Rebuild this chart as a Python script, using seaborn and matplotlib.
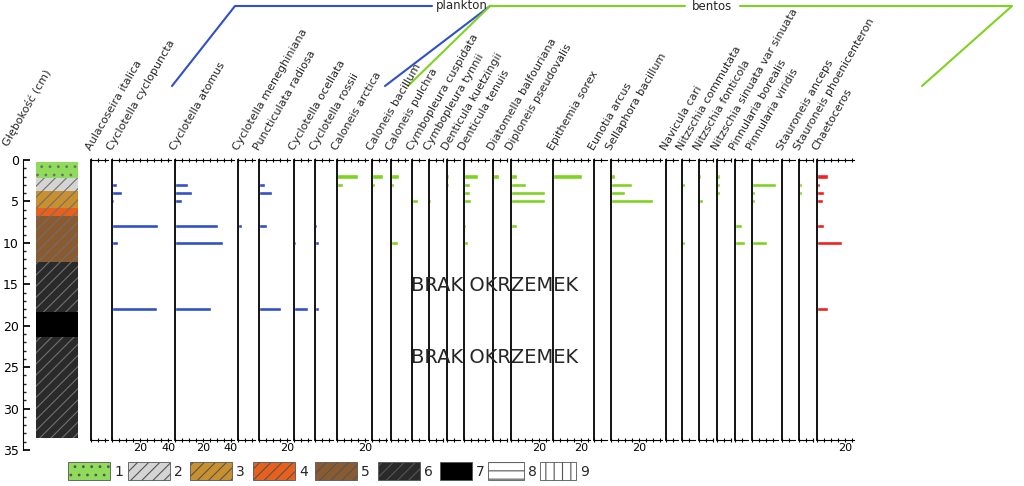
import numpy as np
import matplotlib
matplotlib.use("Agg")
import matplotlib.pyplot as plt
import seaborn as sns
from matplotlib.patches import Rectangle
from matplotlib.lines import Line2D

sns.set_theme(style="white", rc={"hatch.linewidth": 0.8})
plt.rcParams["font.family"] = "DejaVu Sans"

depths = [2, 3, 4, 5, 8, 10, 18]
taxa = ["Aulacoseira italica", "Cyclotella cyclopuncta", "Cyclotella atomus",
        "Cyclotella meneghiniana", "Puncticulata radiosa", "Cyclotella ocellata",
        "Cyclotella rossii", "Caloneis arctica", "Caloneis bacillum", "Caloneis pulchra",
        "Cymbopleura cuspidata", "Cymbopleura tynnii", "Denticula kuetzingii",
        "Denticula tenuis", "Diatomella balfouriana", "Diploneis pseudovalis",
        "Epithemia sorex", "Eunotia arcus", "Sellaphora bacillum", "Navicula cari",
        "Nitzschia commutata", "Nitzschia fonticola", "Nitzschia sinuata var sinuata",
        "Pinnularia borealis", "Pinnularia viridis", "Stauroneis anceps",
        "Stauroneis phoenicenteron", "Chaetoceros"]
groups = ["p"] * 7 + ["b"] * 20 + ["c"]
values = [
    [0, 1, 1, 0, 0, 0, 0],
    [0.5, 3.5, 7, 1.5, 33, 4, 32],
    [0, 9, 12, 5, 31, 34, 26],
    [0, 0, 0, 0, 3, 0, 0],
    [1, 4, 9, 0, 6, 0.5, 16],
    [0, 0, 1, 0, 0, 1.5, 10],
    [0, 0, 0, 0, 1.5, 3, 3],
    [15, 4, 0, 0, 0, 0, 0],
    [8, 2, 0, 0, 0, 0, 0],
    [6, 2, 0, 1, 0, 5, 0],
    [0, 0, 1, 4, 0, 0, 0],
    [0, 1, 0, 1.5, 0, 0, 0],
    [1.5, 1.5, 0.5, 0, 0, 0, 0],
    [10, 4, 4, 5, 1.5, 3, 0],
    [4, 0, 1, 0, 1, 0, 0],
    [4.5, 11, 24, 24, 4, 0.5, 0],
    [21, 0, 1, 1, 0.5, 0, 0],
    [0.5, 0.5, 0.5, 0, 0, 0, 0],
    [3, 15, 10, 30, 0, 1, 0],
    [0, 1, 0, 0, 0, 0, 0],
    [0, 2, 1, 0, 0, 2, 0],
    [1.5, 0, 0.5, 3, 0, 0, 0],
    [2, 2, 2, 1, 0, 0, 0],
    [0, 0, 0, 0, 5, 7, 0],
    [0, 17, 2, 2, 0.5, 11, 0],
    [0, 0.5, 0, 0, 0, 0, 0],
    [0, 2, 2, 0, 0, 0, 0],
    [8, 2, 5, 4, 5, 18, 8],
]
xlefts = [91, 112, 175, 238, 259, 294, 315, 337, 372, 391, 412, 429, 447, 464, 493,
          511, 553, 594, 611, 666, 682, 699, 717, 735, 752, 782, 799, 817, 858]

litho_top = [0.3, 2.2, 3.7, 5.8, 6.8, 12.3, 18.3, 21.4]
litho_bot = [2.2, 3.7, 5.8, 6.8, 12.3, 18.3, 21.4, 33.5]
litho_col = ["#8fdc5a", "#d4d4d4", "#c8902e", "#e8601c", "#8a5a30", "#2a2a2a", "#000000", "#2a2a2a"]
litho_hat = ["..", "///", "///", "///", "///", "///", "", "///"]
legend_cols = ["#8fdc5a", "#d4d4d4", "#c8902e", "#e8601c", "#8a5a30", "#2a2a2a", "#000000", "#ffffff", "#ffffff"]
legend_hat = ["..", "///", "///", "///", "///", "///", "", "--", "||"]
legend_labels = ["1", "2", "3", "4", "5", "6", "7", "8", "9"]

W, H = 1024, 486
fig = plt.figure(figsize=(10.24, 4.86), dpi=100)
def fx(x): return x / W
def fy(y): return 1 - y / H

colors = {"p": "#3050c8", "b": "#7ed321", "c": "#f02020"}
PXU = 1.4
top_y, bot_y = 160, 440
for i, t in enumerate(taxa):
    x0 = xlefts[i]
    w = xlefts[i + 1] - x0 - 4
    ax = fig.add_axes([fx(x0), fy(bot_y), fx(w), (bot_y - top_y) / H])
    xmax = w / PXU
    ax.barh(depths, values[i], height=0.5, color=colors[groups[i]], align="center")
    ax.set_xlim(0, xmax)
    ax.set_ylim(33.8, 0)
    ax.spines["right"].set_visible(False)
    for s in ["left", "top", "bottom"]:
        ax.spines[s].set_color("black")
    ax.spines["left"].set_linewidth(1.3)
    ax.spines["top"].set_linewidth(0.8)
    ax.spines["bottom"].set_linewidth(0.8)
    ax.set_yticks([])
    ax.set_xticks(np.arange(0, xmax + 0.01, 5))
    ax.tick_params(axis="x", which="both", top=True, bottom=True, direction="inout",
                   length=3, width=0.8, labelsize=8, pad=1, colors="black")
    labs = [str(int(v)) if v in (20, 40) else "" for v in np.arange(0, xmax + 0.01, 5)]
    ax.set_xticklabels(labs)
    ax.patch.set_alpha(0)
    fig.text(fx(x0 + 2), fy(top_y - 8), t, rotation=60, fontsize=8,
             ha="left", va="bottom", rotation_mode="anchor")

# lithology
dax = fig.add_axes([fx(36), fy(450), fx(42), 290 / H])
for t0, b0, c, h in zip(litho_top, litho_bot, litho_col, litho_hat):
    dax.bar(0.5, b0 - t0, bottom=t0, width=1, color=c, hatch=h,
            edgecolor="#707070" if c != "#000000" else "black", linewidth=0)
dax.set_xlim(0, 1)
dax.set_ylim(35, 0)
dax.set_xticks([])
dax.set_yticks([])
for s in ["right", "top", "bottom", "left"]:
    dax.spines[s].set_visible(False)
dax.patch.set_alpha(0)

# depth axis
yax = fig.add_axes([fx(23), fy(450), fx(4), 290 / H])
yax.set_ylim(35, 0)
yax.set_xticks([])
yax.set_yticks(np.arange(0, 36, 5))
yax.set_yticks(np.arange(0, 36, 1), minor=True)
for s in ["right", "top", "bottom"]:
    yax.spines[s].set_visible(False)
yax.spines["left"].set_color("black")
yax.spines["left"].set_linewidth(0.8)
yax.patch.set_alpha(0)
yax.tick_params(axis="y", which="major", direction="in", length=5, labelsize=9,
                left=True, right=False, colors="black", pad=3)
yax.tick_params(axis="y", which="minor", direction="in", length=2.5, left=True, right=False)
fig.text(fx(10), fy(148), "Głębokość (cm)", rotation=60, fontsize=8, ha="left", va="bottom",
         rotation_mode="anchor")

# group lines
LY = 6
fig.add_artist(Line2D([fx(172), fx(235), fx(432)], [fy(86), fy(LY), fy(LY)], color="#3050c8", lw=1.5))
fig.add_artist(Line2D([fx(385), fx(490), fx(497)], [fy(86), fy(LY), fy(LY)], color="#3050c8", lw=1.5))
fig.text(fx(462), fy(LY), "plankton", fontsize=8.5, ha="center", va="center")
fig.add_artist(Line2D([fx(408), fx(490), fx(685)], [fy(86), fy(LY), fy(LY)], color="#7ed321", lw=1.5))
fig.add_artist(Line2D([fx(740), fx(1012), fx(922)], [fy(LY), fy(LY), fy(86)], color="#7ed321", lw=1.5))
fig.text(fx(712), fy(LY), "bentos", fontsize=8.5, ha="center", va="center")

fig.text(fx(495), fy(285), "BRAK OKRZEMEK", fontsize=14, ha="center", va="center")
fig.text(fx(495), fy(357), "BRAK OKRZEMEK", fontsize=14, ha="center", va="center")

# legend
lx = [68, 128, 190, 253, 315, 378, 440, 488, 540]
lw_ = [42, 42, 42, 42, 42, 42, 32, 36, 36]
for x, wd, c, h, l in zip(lx, lw_, legend_cols, legend_hat, legend_labels):
    fig.add_artist(Rectangle((fx(x), fy(480)), fx(wd), 18 / H, facecolor=c, hatch=h,
                             edgecolor="#555555", lw=0.6, transform=fig.transFigure))
    fig.text(fx(x + wd + 4), fy(472), l, fontsize=10, ha="left", va="center")

fig.savefig("out.png", dpi=100, facecolor="white")
